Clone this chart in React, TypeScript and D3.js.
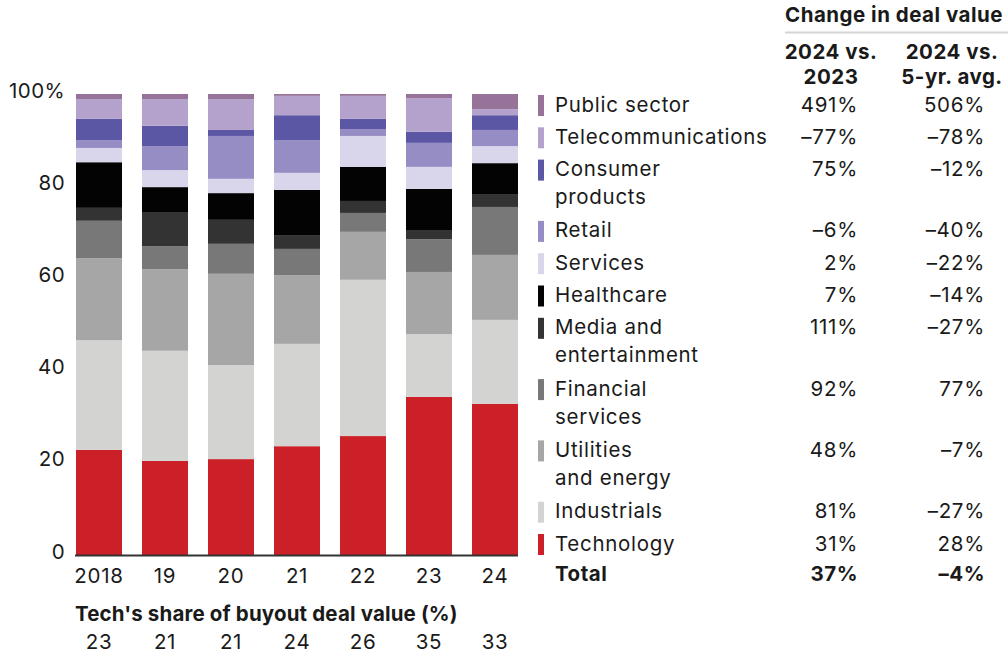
import React from "react";
import * as d3 from "d3";

// years and tech share row
const years = ["2018", "19", "20", "21", "22", "23", "24"];
const techShare = ["23", "21", "21", "24", "26", "35", "33"];

// share of buyout deal value by sector (%), bottom of stack first
const technology = [22.8, 20.4, 20.8, 23.6, 25.8, 34.3, 32.8];
const industrials = [23.8, 23.9, 20.4, 22.2, 33.9, 13.6, 18.2];
const utilities = [17.8, 17.7, 19.8, 14.9, 10.4, 13.5, 14.1];
const financial = [8.1, 5.0, 6.5, 5.7, 4.1, 7.1, 10.4];
const media = [2.8, 7.4, 5.2, 3.0, 2.6, 2.0, 2.8];
const healthcare = [9.9, 5.4, 5.8, 9.8, 7.4, 8.9, 6.7];
const services = [3.1, 3.7, 3.1, 3.7, 6.7, 4.8, 3.7];
const retail = [1.7, 5.2, 9.3, 7.1, 1.5, 5.2, 3.5];
const consumer = [4.6, 4.4, 1.3, 5.4, 2.2, 2.4, 3.2];
const telecom = [4.3, 5.8, 6.7, 4.2, 5.0, 7.3, 1.3];
const publicSector = [1.1, 1.1, 1.1, 0.4, 0.4, 0.9, 3.3];

// legend table, top to bottom
const sectorKeys = [
  "public", "telecom", "consumer", "retail", "services", "healthcare",
  "media", "financial", "utilities", "industrials", "technology",
];
const sectorLabels = [
  ["Public sector"], ["Telecommunications"], ["Consumer", "products"],
  ["Retail"], ["Services"], ["Healthcare"], ["Media and", "entertainment"],
  ["Financial", "services"], ["Utilities", "and energy"], ["Industrials"],
  ["Technology"],
];
const vs2023 = ["491%", "–77%", "75%", "–6%", "2%", "7%", "111%", "92%", "48%", "81%", "31%"];
const vs5yr = ["506%", "–78%", "–12%", "–40%", "–22%", "–14%", "–27%", "77%", "–7%", "–27%", "28%"];
const totalRow = ["37%", "–4%"];
const sectorColors = [
  "#977399", "#b5a2cc", "#5b57a5", "#978dc5", "#d9d5ea", "#030303",
  "#333333", "#787878", "#a5a6a5", "#d3d3d2", "#cc2028",
];
const yTicks = [0, 20, 40, 60, 80, 100];

const W = 1008;
const H = 656;
const font = "Inter, 'Noto Sans', sans-serif";
const ink = "#1a1a1a";
const fs = 20.5;
const ls = 0.7; // regular text tracking
const lsBold = 0.5;

export default function App() {
  const seriesByKey: Record<string, number[]> = {
    technology, industrials, utilities, financial, media, healthcare,
    services, retail, consumer, telecom, public: publicSector,
  };
  const stackOrder = [...sectorKeys].reverse();
  const color = d3.scaleOrdinal<string, string>().domain(sectorKeys).range(sectorColors);

  const rows = years.map((y, i) => {
    const r: Record<string, any> = { year: y };
    stackOrder.forEach((k) => (r[k] = seriesByKey[k][i]));
    return r;
  });
  const stacked = d3.stack<any>().keys(stackOrder)(rows);

  const x = d3.scaleBand().domain(years).range([66, 528]).paddingInner(0.303).paddingOuter(0.1515);
  const y = d3.scaleLinear().domain([0, 100]).range([555, 94]);

  // legend row positions
  const lineGap = 28;
  let cursor = 106;
  const legendY = sectorLabels.map((lines) => {
    const at = cursor;
    cursor += 32.3 + (lines.length - 1) * 29;
    return at;
  });
  const totalY = cursor - 2.3;

  const col1 = 858;
  const col2 = 985;

  return (
    <svg width={W} height={H} style={{ position: "absolute", left: 0, top: 0 }} fontFamily={font}>
      <rect width={W} height={H} fill="#fff" />

      {stacked.map((s) => (
        <g key={s.key} fill={color(s.key)}>
          {s.map((d, i) => (
            <rect
              key={i}
              x={x(years[i])}
              y={y(d[1])}
              width={x.bandwidth()}
              height={Math.max(0, y(d[0]) - y(d[1]))}
            />
          ))}
        </g>
      ))}

      <line x1={75} x2={518} y1={y(0) + 0.5} y2={y(0) + 0.5} stroke="#333" strokeWidth={2} />

      {yTicks.map((t) => (
        <text key={t} x={65} y={y(t) - 2} textAnchor="end" dominantBaseline="middle" fontSize={fs} letterSpacing={0.4} fill={ink}>
          {t === 100 ? "100%" : t}
        </text>
      ))}

      {years.map((yr) => (
        <text key={yr} x={x(yr)! + x.bandwidth() / 2} y={577} textAnchor="middle" dominantBaseline="middle" fontSize={fs} letterSpacing={ls} fill={ink}>
          {yr}
        </text>
      ))}

      <text x={75} y={615} dominantBaseline="middle" fontSize={fs} fontWeight={700} letterSpacing={0.15} fill={ink}>
        Tech's share of buyout deal value (%)
      </text>
      {years.map((yr, i) => (
        <text key={yr} x={x(yr)! + x.bandwidth() / 2} y={643} textAnchor="middle" dominantBaseline="middle" fontSize={fs} letterSpacing={ls} fill={ink}>
          {techShare[i]}
        </text>
      ))}

      {/* change table header */}
      <text x={785} y={16} dominantBaseline="middle" fontSize={fs} fontWeight={700} letterSpacing={lsBold} fill={ink}>
        Change in deal value
      </text>
      <line x1={785} x2={1008} y1={32.5} y2={32.5} stroke="#d4d4d4" strokeWidth={2} />
      <g fontSize={fs} fontWeight={700} letterSpacing={lsBold} fill={ink} textAnchor="middle" dominantBaseline="middle">
        <text x={831} y={53}>2024 vs.</text>
        <text x={831} y={78}>2023</text>
        <text x={952} y={53}>2024 vs.</text>
        <text x={952} y={78}>5-yr. avg.</text>
      </g>

      {sectorKeys.map((k, i) => (
        <g key={k} fontSize={fs} letterSpacing={ls} fill={ink} dominantBaseline="middle">
          <rect x={538} y={legendY[i] - 11} width={6} height={21} fill={color(k)} />
          {sectorLabels[i].map((line, j) => (
            <text key={j} x={555} y={legendY[i] + j * lineGap}>
              {line}
            </text>
          ))}
          <text x={col1} y={legendY[i]} textAnchor="end">{vs2023[i]}</text>
          <text x={col2} y={legendY[i]} textAnchor="end">{vs5yr[i]}</text>
        </g>
      ))}
      <g fontSize={fs} fontWeight={700} letterSpacing={lsBold} fill={ink} dominantBaseline="middle">
        <text x={555} y={totalY}>Total</text>
        <text x={col1} y={totalY} textAnchor="end">{totalRow[0]}</text>
        <text x={col2} y={totalY} textAnchor="end">{totalRow[1]}</text>
      </g>
    </svg>
  );
}
